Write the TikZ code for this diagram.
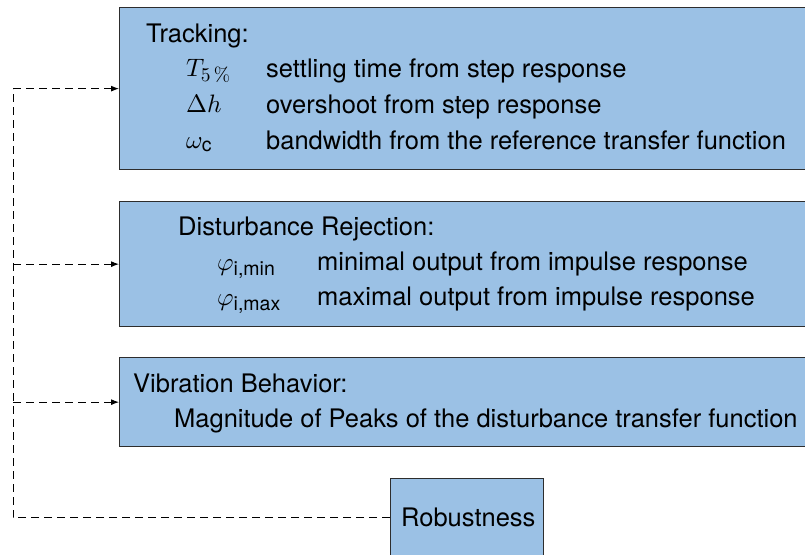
\documentclass[tikz,border=0pt]{standalone}
\usepackage{fix-cm}
\usepackage{amsmath}
\usepackage[no-math]{fontspec}
\setmainfont{TeX Gyre Heros}
\usetikzlibrary{arrows.meta}
% math symbols drawn from the 10pt design, scaled up
\DeclareFontShape{OML}{cmm}{m}{it}{<->cmmi10}{\skewchar\font=127}
\DeclareFontShape{OT1}{cmr}{m}{n}{<->cmr10}{}
\DeclareFontShape{OMS}{cmsy}{m}{n}{<->cmsy10}{\skewchar\font=48}
\DeclareMathSizes{25.2}{25.2}{19.5}{14}
\definecolor{boxblue}{RGB}{155,193,229}
\definecolor{boxline}{RGB}{45,45,45}
\tikzset{
  critbox/.style={draw=boxline, line width=1.3pt, fill=boxblue, rectangle,
    anchor=north west, inner sep=0pt},
  lbl/.style={anchor=base west, inner sep=0pt,
    font=\fontsize{25.5}{30}\selectfont},
  mlbl/.style={anchor=base west, inner sep=0pt,
    font=\fontsize{25.2}{30}\selectfont},
  link/.style={line width=1pt, dash pattern=on 8pt off 5pt},
  tip/.style={-{Latex[length=8pt,width=6pt]}}
}
\newcommand{\subtxt}[1]{\text{#1}}
\begin{document}
\begin{tikzpicture}[x=1pt,y=-1pt]
  \useasboundingbox (0,0) rectangle (805,554);
  \clip (0,0) rectangle (805,554);

  % criteria boxes
  \node[critbox, minimum width=720pt, minimum height=162pt] (track) at (119,7) {};
  \node[critbox, minimum width=720pt, minimum height=125pt] (dist) at (119,201) {};
  \node[critbox, minimum width=720pt, minimum height=89pt] (vib) at (119,357) {};
  \node[critbox, minimum width=153pt, minimum height=78pt] (rob) at (390,478) {};

  % tracking
  \node[lbl] (trackT) at (146,42) {Tracking:};
  \node[mlbl] (trackA) at (186,76) {$T_{5\,\%}$};
  \node[mlbl] (trackB) at (186,112) {$\Delta h$};
  \node[mlbl] (trackC) at (186,148) {$\omega_{\subtxt{c}}$};
  \node[lbl] (trackAt) at (266,77) {settling time from step response};
  \node[lbl] (trackBt) at (266,113) {overshoot from step response};
  \node[lbl] (trackCt) at (266,149) {bandwidth from the reference transfer function};

  % disturbance rejection
  \node[lbl] (distT) at (178,235) {Disturbance Rejection:};
  \node[mlbl] (distA) at (217,270) {$\varphi_{\subtxt{i,min}}$};
  \node[mlbl] (distB) at (217,305) {$\varphi_{\subtxt{i,max}}$};
  \node[lbl] (distAt) at (317,270) {minimal output from impulse response};
  \node[lbl] (distBt) at (317,305) {maximal output from impulse response};

  % vibration behavior
  \node[lbl] (vibT) at (133,392) {Vibration Behavior:};
  \node[lbl] (vibA) at (174,427) {Magnitude of Peaks of the disturbance transfer function};

  % robustness
  \node[lbl] (robT) at (401,526) {Robustness};

  % dashed feedback lines
  \coordinate (bus) at (13,0);
  \draw[link] (rob.west) -| (bus |- track.west);
  \draw[link, tip] (bus |- track.west) -- (track.west);
  \draw[link, tip] (bus |- dist.west) -- (dist.west);
  \draw[link, tip] (bus |- vib.west) -- (vib.west);
\end{tikzpicture}
\end{document}
